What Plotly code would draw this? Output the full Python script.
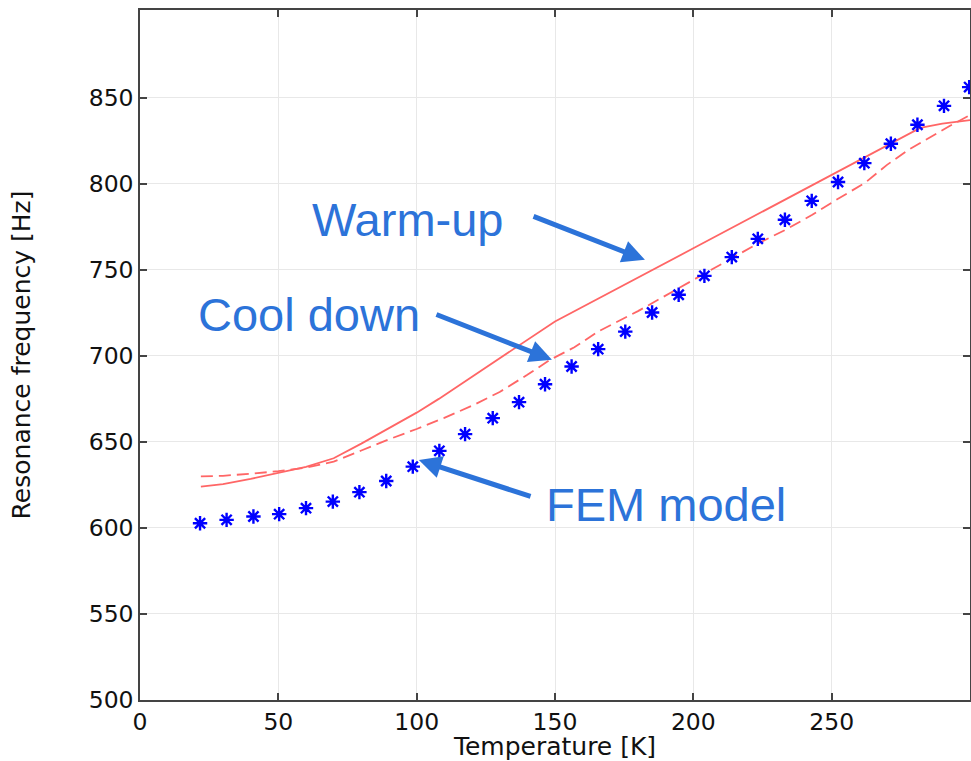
import plotly.graph_objects as go

# FEM model (stars)
fem_T = [21.7, 31.3, 41.0, 50.3, 60.0, 69.7, 79.3, 89.0, 98.6, 108.2, 117.5, 127.5, 137.0, 146.4, 156.0,
         165.6, 175.4, 185.1, 194.7, 204.0, 213.9, 223.3, 233.1, 242.8, 252.3, 261.8, 271.4, 281.0, 290.6, 299.7]
fem_f = [602.7, 604.7, 606.6, 608.0, 611.5, 615.3, 620.8, 627.3, 635.6, 644.8, 654.5, 663.8, 673.1, 683.5, 693.8,
         703.9, 714.1, 725.2, 735.5, 746.5, 757.4, 768.0, 779.1, 790.1, 801.0, 812.0, 823.3, 834.3, 845.3, 856.2]

# Warm-up (solid)
warm_T = [22, 30, 40, 50, 60, 70, 80, 90, 100, 108, 150, 200, 250, 282, 290, 300]
warm_f = [624, 625.5, 628.5, 632, 635.5, 640.5, 649, 658, 667, 675, 720, 762.5, 805, 832.5, 835, 837]

# Cool down (dashed)
cool_T = [22, 30, 40, 50, 60, 70, 80, 90, 100, 110, 120, 130, 140, 148, 157, 166, 180, 200, 214, 223,
          233, 243, 252, 262, 270, 278, 292, 300]
cool_f = [630, 630.3, 631.5, 633, 635, 638.5, 645, 651.5, 657.5, 664, 671, 679, 689, 697.5, 705, 714.5,
          726, 744, 757, 765, 773, 782, 791, 800.5, 811, 820, 833, 840]

x_ticks = [0, 50, 100, 150, 200, 250]
y_ticks = [500, 550, 600, 650, 700, 750, 800, 850]

# annotation labels: (text, text_x, text_y, tail_x, tail_y, tip_x, tip_y)
labels = [
    ("Warm-up", 96.7, 779.0, 141.7, 781.4, 182.5, 755.8),
    ("Cool down", 61.1, 724.1, 106.6, 724.4, 148.9, 697.7),
    ("FEM model", 190.1, 613.4, 141.7, 618.0, 100.8, 639.5),
]

RED = "rgb(255,102,102)"
BLUE_TXT = "#2c73d9"

fig = go.Figure()
fig.add_trace(go.Scatter(x=warm_T, y=warm_f, mode="lines",
                         line=dict(color=RED, width=1.8), showlegend=False))
fig.add_trace(go.Scatter(x=cool_T, y=cool_f, mode="lines",
                         line=dict(color=RED, width=1.8, dash="12px,6px"), showlegend=False))
fig.add_trace(go.Scatter(x=fem_T, y=fem_f, mode="markers",
                         marker=dict(symbol="asterisk-open", size=12, color="rgb(0,0,255)",
                                     line=dict(color="rgb(0,0,255)", width=2.4)),
                         showlegend=False))

annotations = []
for text, tx, ty, ax, ay, hx, hy in labels:
    annotations.append(dict(x=tx, y=ty, xref="x", yref="y", text=text, showarrow=False,
                            xanchor="center", yanchor="middle",
                            font=dict(family="Liberation Sans, Arial", size=47, color=BLUE_TXT)))
    annotations.append(dict(x=hx, y=hy, xref="x", yref="y", ax=ax, ay=ay, axref="x", ayref="y",
                            text="", showarrow=True, arrowhead=2, arrowsize=0.9, arrowwidth=5,
                            arrowcolor=BLUE_TXT, standoff=0))

axis_common = dict(showline=True, linecolor="#444", linewidth=1.5, mirror="allticks",
                   ticks="inside", ticklen=7, tickcolor="#444", tickwidth=1.5,
                   showgrid=True, gridcolor="#e8e8e8", gridwidth=1.2, zeroline=False,
                   automargin=False,
                   tickfont=dict(family="DejaVu Sans", size=23.5, color="#111"))

fig.update_layout(
    width=971, height=761,
    margin=dict(l=140, r=1, t=10, b=61),
    plot_bgcolor="white", paper_bgcolor="white",
    xaxis=dict(range=[0, 300], tickvals=x_ticks,
               title=dict(text="Temperature [K]", standoff=12,
                          font=dict(family="DejaVu Sans", size=25, color="#111")),
               **axis_common),
    yaxis=dict(range=[500, 901], tickvals=y_ticks,
               title=dict(text="Resonance frequency [Hz]", standoff=51,
                          font=dict(family="DejaVu Sans", size=25, color="#111")),
               **axis_common),
    annotations=annotations,
)

fig.write_html("out.html", config={"displayModeBar": False},
               post_script="document.body.style.margin='0';document.body.style.padding='0';")
